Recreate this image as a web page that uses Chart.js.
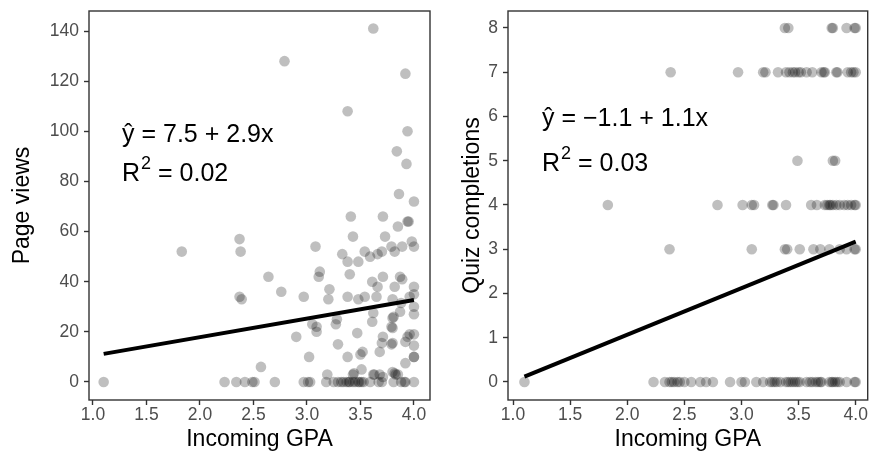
<!DOCTYPE html>
<html>
<head>
<meta charset="utf-8">
<script src="https://cdn.jsdelivr.net/npm/chart.js@4.4.0/dist/chart.umd.min.js"></script>
<style>
  html, body { margin: 0; padding: 0; background: #fff; }
  #left { position: absolute; left: 0; top: 0; }
  #right { position: absolute; left: 436px; top: 0; }
</style>
</head>
<body>
<canvas id="left" width="436" height="460"></canvas>
<canvas id="right" width="437" height="460"></canvas>
<script>
// Datos: GPA de ingreso vs. vistas de página / cuestionarios completados
const gpaTicks = [1.0, 1.5, 2.0, 2.5, 3.0, 3.5, 4.0];
const viewTicks = [0, 20, 40, 60, 80, 100, 120, 140];
const quizTicks = [0, 1, 2, 3, 4, 5, 6, 7, 8];

const viewsGpa = [
  1.10, 1.83, 2.37, 2.38, 2.37, 2.39, 2.79, 3.62, 3.92, 3.38, 3.94, 3.84, 3.93, 3.86, 4.00,
  3.41, 3.71, 3.94, 3.95, 3.85, 3.43, 3.73, 3.98, 3.89, 3.08, 4.00, 3.79, 3.33, 3.54, 3.59,
  3.66, 3.70, 3.82, 3.38, 3.48, 3.12, 3.11, 3.40, 2.64, 3.71, 3.87, 3.89, 3.61, 3.66, 3.82,
  4.00, 2.76, 3.21, 4.00, 3.96, 2.97, 3.38, 3.20, 3.48, 3.54, 3.65, 3.80, 3.88, 4.00, 3.62,
  3.87, 4.00, 3.80, 3.81, 3.28, 3.27, 3.61, 3.79, 3.80, 3.05, 3.09, 3.09, 2.90, 3.47, 3.71,
  3.96, 3.94, 4.00, 3.92, 3.80, 3.79, 3.70, 4.00, 3.29, 3.68, 3.38, 3.50, 3.52, 3.02, 4.00,
  4.00, 3.92, 3.51, 2.57, 3.19, 3.43, 3.44, 3.62, 3.63, 3.68, 3.71, 3.80, 3.82, 3.83, 3.85,
  2.23, 2.34, 2.42, 2.49, 2.51, 2.70, 2.97, 3.01, 3.03, 3.18, 3.25, 3.29, 3.32, 3.34, 3.37,
  3.39, 3.40, 3.43, 3.45, 3.48, 3.49, 3.51, 3.53, 3.59, 3.67, 3.70, 3.81, 3.88, 3.91, 3.92,
  4.00
];
const viewsCount = [
  0, 52, 57, 52, 34, 33, 128, 141, 123, 108, 100, 92, 87, 75, 72,
  66, 66, 64, 64, 62, 58, 58, 56, 54, 54, 54, 54, 51, 52, 50,
  51, 52, 52, 48, 48, 44, 42, 43, 42, 42, 42, 41, 40, 38, 38,
  38, 36, 37, 35, 34, 34, 34, 33, 33, 34, 34, 33, 31.5, 30, 27.5,
  28, 27, 25.5, 26, 25, 23, 24, 22, 21.5, 23, 22, 20, 18, 19.5, 18,
  19, 18, 19, 16, 15.5, 15, 15.5, 14.5, 15, 12, 10, 11, 12, 10, 10,
  10, 7.5, 5, 6, 3, 3, 3.5, 3, 3, 3, 2, 4, 3.5, 3, 3,
  0, 0, 0, 0, 0, 0, 0, 0, 0, 0, 0, 0, 0, 0, 0,
  0, 0, 0, 0, 0, 0, 0, 0, 0, 0, 0, 0, 0, 0, 0,
  0
];

const quizGpa = [
  3.38, 3.41, 3.79, 3.80, 3.92, 3.99, 4.00,
  2.38, 2.97, 3.19, 3.21, 3.32, 3.39, 3.42, 3.45, 3.47, 3.50, 3.52, 3.57, 3.62, 3.70, 3.72,
  3.73, 3.83, 3.84, 3.93, 3.96, 3.98, 4.00,
  3.49, 3.80, 3.82,
  1.83, 2.79, 3.01, 3.09, 3.11, 3.27, 3.28, 3.39, 3.61, 3.66, 3.73, 3.75, 3.77, 3.78, 3.80,
  3.83, 3.86, 3.90, 3.93, 3.96, 3.99, 4.00,
  2.37, 3.09, 3.38, 3.40, 3.51, 3.63, 3.69, 3.77, 3.86, 3.92, 3.99, 4.00,
  1.10, 2.23, 2.33, 2.37, 2.39, 2.41, 2.44, 2.46, 2.50, 2.56, 2.64, 2.69, 2.75, 2.90, 3.00,
  3.03, 3.13, 3.19, 3.25, 3.27, 3.29, 3.31, 3.34, 3.39, 3.41, 3.43, 3.45, 3.47, 3.49, 3.51,
  3.57, 3.60, 3.62, 3.65, 3.67, 3.69, 3.70, 3.77, 3.79, 3.80, 3.82, 3.84, 3.86, 3.92, 3.99,
  4.00
];
const quizCount = [
  8, 8, 8, 8, 8, 8, 8,
  7, 7, 7, 7, 7, 7, 7, 7, 7, 7, 7, 7, 7, 7, 7,
  7, 7, 7, 7, 7, 7, 7,
  5, 5, 5,
  4, 4, 4, 4, 4, 4, 4, 4, 4, 4, 4, 4, 4, 4, 4,
  4, 4, 4, 4, 4, 4, 4,
  3, 3, 3, 3, 3, 3, 3, 3, 3, 3, 3, 3,
  0, 0, 0, 0, 0, 0, 0, 0, 0, 0, 0, 0, 0, 0, 0,
  0, 0, 0, 0, 0, 0, 0, 0, 0, 0, 0, 0, 0, 0, 0,
  0, 0, 0, 0, 0, 0, 0, 0, 0, 0, 0, 0, 0, 0, 0,
  0
];

// Recta de regresión (extremos)
const fitGpa = [1.1, 4.0];
const viewsFit = [11.2, 32.7];
const quizFit = [0.12, 3.17];

const FONT = "'Liberation Sans', Arial, sans-serif";

function toPoints(xs, ys) {
  return xs.map((x, i) => ({ x: x, y: ys[i] }));
}

// Marco del panel + ecuación
function panelPlugin(eq, r2, dx, dy1, dy2) {
  return {
    id: 'panel',
    afterDraw(chart) {
      const { ctx, chartArea: a } = chart;
      ctx.save();
      ctx.strokeStyle = '#333';
      ctx.lineWidth = 1.4;
      ctx.strokeRect(a.left, a.top, a.right - a.left, a.bottom - a.top);

      const x = a.left + dx;
      ctx.fillStyle = '#000';
      ctx.textBaseline = 'middle';
      ctx.textAlign = 'left';
      ctx.font = '25px ' + FONT;
      ctx.fillText(eq, x, a.top + dy1);

      // R² con superíndice
      ctx.fillText('R', x, a.top + dy2);
      const wR = ctx.measureText('R').width;
      ctx.font = '18px ' + FONT;
      ctx.fillText('2', x + wR + 1, a.top + dy2 - 10);
      const w2 = ctx.measureText('2').width;
      ctx.font = '25px ' + FONT;
      ctx.fillText(' = ' + r2, x + wR + w2 + 1, a.top + dy2);
      ctx.restore();
    }
  };
}

function makeChart(id, opts) {
  const ctx = document.getElementById(id).getContext('2d');
  return new Chart(ctx, {
    type: 'scatter',
    data: {
      datasets: [
        {
          data: toPoints(opts.xs, opts.ys),
          backgroundColor: 'rgba(0, 0, 0, 0.25)',
          borderWidth: 0,
          pointRadius: 5.3,
          order: 2
        },
        {
          type: 'line',
          data: toPoints(fitGpa, opts.fit),
          borderColor: '#000',
          borderWidth: 4,
          pointRadius: 0,
          fill: false,
          order: 1
        }
      ]
    },
    options: {
      responsive: false,
      animation: false,
      layout: { padding: { top: 11, right: opts.padRight, left: 0, bottom: 0 } },
      plugins: { legend: { display: false }, tooltip: { enabled: false } },
      scales: {
        x: {
          type: 'linear',
          min: opts.xMin,
          max: opts.xMax,
          afterBuildTicks: s => { s.ticks = gpaTicks.map(v => ({ value: v })); },
          afterFit: s => { s.height = 60; s.paddingLeft = 0; s.paddingRight = 0; },
          border: { display: false },
          grid: { drawOnChartArea: false, tickLength: 5, tickColor: '#333', tickWidth: 1.4 },
          ticks: {
            color: '#4d4d4d',
            font: { size: 17.5, family: FONT },
            padding: 0,
            maxRotation: 0,
            autoSkip: false,
            callback: v => v.toFixed(1)
          },
          title: {
            display: true,
            text: 'Incoming GPA',
            color: '#000',
            font: { size: 23, family: FONT },
            padding: { top: 0, bottom: 7 }
          }
        },
        y: {
          type: 'linear',
          min: opts.yMin,
          max: opts.yMax,
          afterBuildTicks: s => { s.ticks = opts.yTicks.map(v => ({ value: v })); },
          afterFit: s => { s.width = opts.yWidth; s.paddingTop = 0; s.paddingBottom = 0; },
          border: { display: false },
          grid: { drawOnChartArea: false, tickLength: 5, tickColor: '#333', tickWidth: 1.4 },
          ticks: {
            color: '#4d4d4d',
            font: { size: 17.5, family: FONT },
            padding: 5,
            autoSkip: false
          },
          title: {
            display: true,
            text: opts.yTitle,
            color: '#000',
            font: { size: 23, family: FONT },
            padding: { top: opts.yTitlePad, bottom: 0 }
          }
        }
      }
    },
    plugins: [panelPlugin(opts.eq, opts.r2, opts.eqDx, opts.eqDy1, opts.eqDy2)]
  });
}

makeChart('left', {
  xs: viewsGpa, ys: viewsCount, fit: viewsFit,
  xMin: 0.963, xMax: 4.15, yMin: -7.2, yMax: 148,
  yTicks: viewTicks, yWidth: 89, yTitle: 'Page views', yTitlePad: 9,
  padRight: 6,
  eq: 'ŷ = 7.5 + 2.9x', r2: '0.02', eqDx: 33, eqDy1: 124, eqDy2: 163
});

makeChart('right', {
  xs: quizGpa, ys: quizCount, fit: quizFit,
  xMin: 0.956, xMax: 4.105, yMin: -0.407, yMax: 8.384,
  yTicks: quizTicks, yWidth: 72, yTitle: 'Quiz completions', yTitlePad: 23,
  padRight: 5,
  eq: 'ŷ = \u22121.1 + 1.1x', r2: '0.03', eqDx: 34, eqDy1: 108, eqDy2: 153
});
</script>
</body>
</html>
